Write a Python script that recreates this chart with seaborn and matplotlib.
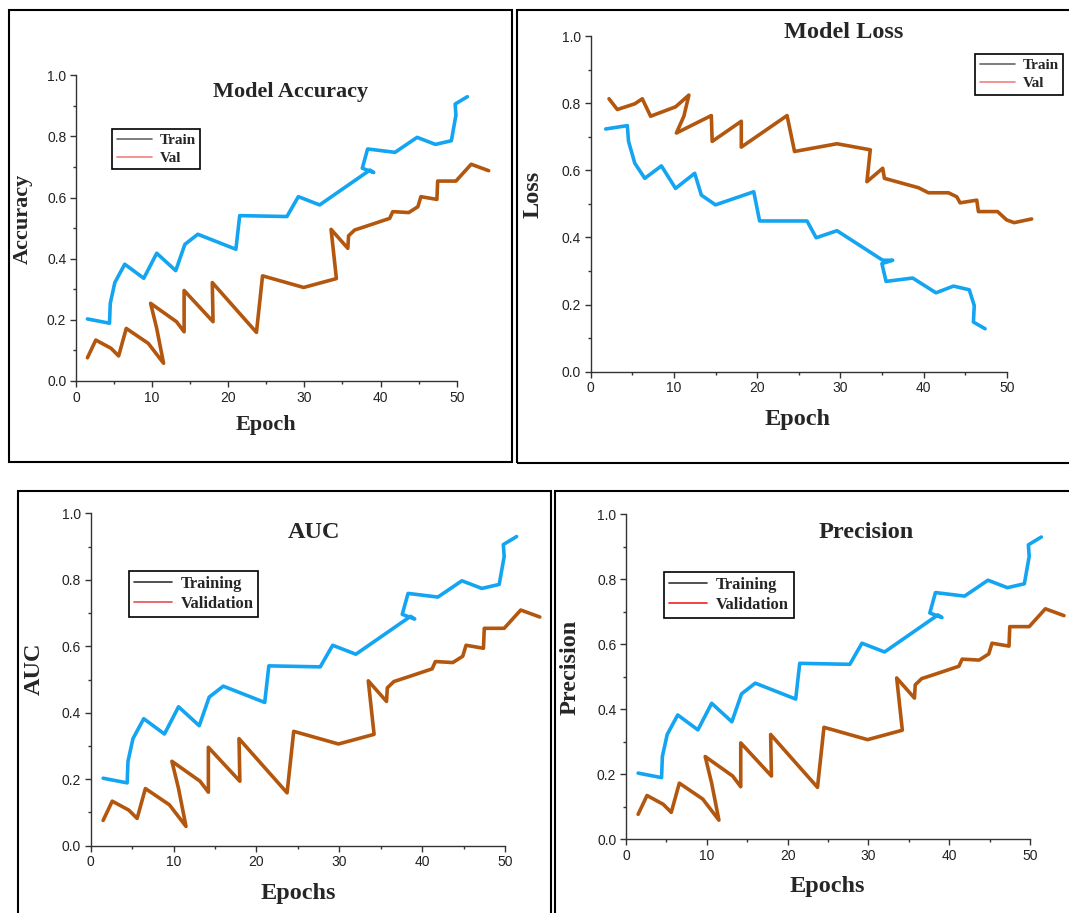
import matplotlib
matplotlib.use("Agg")
import matplotlib.pyplot as plt
from matplotlib.lines import Line2D
from matplotlib.patches import Rectangle
from matplotlib.ticker import MultipleLocator
import seaborn as sns

acc_train_epoch = [1.5, 4.4, 4.5, 5.1, 6.4, 8.9, 10.6, 13.1, 14.3, 16.0, 21.0, 21.5,
                   27.7, 29.2, 32.0, 38.6, 39.1, 37.6, 38.3, 41.9, 44.8, 47.2, 49.3,
                   49.9, 49.8, 51.4]
acc_train = [0.203, 0.189, 0.254, 0.322, 0.382, 0.336, 0.418, 0.361, 0.447, 0.480,
             0.431, 0.541, 0.538, 0.603, 0.576, 0.690, 0.682, 0.696, 0.759, 0.748,
             0.797, 0.774, 0.786, 0.870, 0.906, 0.930]

acc_val_epoch = [1.5, 2.6, 4.6, 5.6, 6.6, 9.5, 11.5, 10.6, 9.8, 13.2, 14.2, 14.2,
                 18.0, 17.9, 21.1, 23.7, 24.5, 29.9, 34.2, 33.5, 35.7, 35.8, 36.6,
                 38.2, 41.2, 41.6, 43.7, 44.9, 45.3, 47.4, 47.5, 49.9, 51.9, 54.2]
acc_val = [0.076, 0.134, 0.107, 0.082, 0.172, 0.123, 0.058, 0.172, 0.254, 0.194,
           0.161, 0.296, 0.194, 0.322, 0.232, 0.159, 0.344, 0.306, 0.335, 0.496,
           0.434, 0.475, 0.494, 0.507, 0.532, 0.554, 0.551, 0.570, 0.603, 0.594,
           0.654, 0.654, 0.709, 0.688]

loss_train_epoch = [1.8, 4.4, 4.55, 5.3, 6.5, 8.5, 10.2, 12.5, 13.3, 15.0, 19.6, 20.3,
                    26.0, 27.1, 29.6, 35.1, 36.3, 35.0, 35.5, 38.7, 41.5, 43.6, 45.5,
                    46.1, 46.0, 47.4]
loss_train = [0.723, 0.733, 0.686, 0.621, 0.576, 0.613, 0.546, 0.591, 0.526, 0.497,
              0.536, 0.449, 0.449, 0.399, 0.420, 0.332, 0.332, 0.322, 0.269, 0.279,
              0.235, 0.255, 0.244, 0.197, 0.148, 0.128]

loss_val_epoch = [2.2, 3.2, 5.3, 6.2, 7.2, 10.2, 11.8, 11.2, 10.3, 14.5, 14.6, 18.1,
                  18.1, 23.6, 24.5, 29.6, 33.6, 33.2, 35.1, 35.3, 39.4, 40.6, 43.0,
                  44.0, 44.4, 46.4, 46.6, 48.9, 50.0, 50.9, 53.0]
loss_val = [0.813, 0.781, 0.798, 0.813, 0.761, 0.789, 0.824, 0.761, 0.711, 0.763,
            0.686, 0.746, 0.669, 0.763, 0.656, 0.679, 0.661, 0.566, 0.606, 0.576,
            0.548, 0.533, 0.533, 0.521, 0.503, 0.511, 0.477, 0.477, 0.452, 0.444,
            0.455]

# AUC and Precision panels show the very same traces as Accuracy
auc_train, auc_val = acc_train, acc_val
prec_train, prec_val = acc_train, acc_val

BLUE = "#14A5F2"
BROWN = "#B3570F"

sns.set_style("ticks")
plt.rcParams["font.family"] = ["Liberation Sans", "DejaVu Sans"]
SERIF = "Liberation Serif"

W, H = 1069, 913
fig = plt.figure(figsize=(W / 100, H / 100), dpi=100)


def box(l, t, r, b):
    # pixel box -> figure fraction
    return [l / W, 1 - b / H, (r - l) / W, (b - t) / H]


# panel frames
for l, t, r, b in [(9, 10, 512, 462), (517, 10, 1080, 463),
                   (18, 491, 551, 930), (555, 491, 1080, 930)]:
    x0, y0, w, h = box(l, t, r, b)
    fig.patches.append(Rectangle((x0, y0), w, h, transform=fig.transFigure,
                                 fill=False, ec="black", lw=1.5))

panels = [
    dict(rect=(76, 75.3, 456.7, 381), title="Model Accuracy", tpos=(291, 92),
         xlab="Epoch", ylab="Accuracy", size=16,
         xl=(0.498, -0.144), yl=(-0.139, 0.53),
         leg=["Train", "Val"], legc=["#666666", "#F08080"], legpos=(0.095, 0.824), legsize=11,
         tx=acc_train_epoch, ty=acc_train, vx=acc_val_epoch, vy=acc_val),
    dict(rect=(590.7, 36, 1006.7, 371.7), title="Model Loss", tpos=(844, 33),
         xlab="Epoch", ylab="Loss", size=17.5,
         xl=(0.498, -0.141), yl=(-0.139, 0.529),
         leg=["Train", "Val"], legc=["#666666", "#F08080"], legpos=(0.924, 0.946), legsize=11,
         tx=loss_train_epoch, ty=loss_train, vx=loss_val_epoch, vy=loss_val),
    dict(rect=(90.7, 513.3, 505, 845.7), title="AUC", tpos=(314, 532),
         xlab="Epochs", ylab="AUC", size=17.5,
         xl=(0.5, -0.145), yl=(-0.137, 0.532),
         leg=["Training", "Validation"], legc=["#333333", "#E05050"], legpos=(0.092, 0.826), legsize=12,
         tx=acc_train_epoch, ty=auc_train, vx=acc_val_epoch, vy=auc_val),
    dict(rect=(626, 514.3, 1030, 839), title="Precision", tpos=(866, 532),
         xlab="Epochs", ylab="Precision", size=17.5,
         xl=(0.499, -0.145), yl=(-0.139, 0.53),
         leg=["Training", "Validation"], legc=["#333333", "#F02020"], legpos=(0.094, 0.822), legsize=12,
         tx=acc_train_epoch, ty=prec_train, vx=acc_val_epoch, vy=prec_val),
]

for p in panels:
    ax = fig.add_axes(box(*p["rect"]))
    sns.lineplot(x=p["tx"], y=p["ty"], sort=False, estimator=None, color=BLUE,
                 lw=2.6, ax=ax, clip_on=False, legend=False)
    sns.lineplot(x=p["vx"], y=p["vy"], sort=False, estimator=None, color=BROWN,
                 lw=2.6, ax=ax, clip_on=False, legend=False)

    ax.set_xlim(0, 50)
    ax.set_ylim(0, 1)
    ax.set_xticks(range(0, 51, 10))
    ax.set_yticks([0.0, 0.2, 0.4, 0.6, 0.8, 1.0])
    ax.set_yticklabels(["0.0", "0.2", "0.4", "0.6", "0.8", "1.0"])
    ax.xaxis.set_minor_locator(MultipleLocator(5))
    ax.yaxis.set_minor_locator(MultipleLocator(0.1))
    ax.tick_params(which="major", length=4, width=1, color="#333333",
                   labelsize=10, labelcolor="#222222", pad=3)
    ax.tick_params(which="minor", length=2, width=1, color="#333333")
    sns.despine(ax=ax)
    for s in ["left", "bottom"]:
        ax.spines[s].set_color("#333333")
        ax.spines[s].set_linewidth(1)
    ax.set_xlabel("")
    ax.set_ylabel("")

    ax.text(p["xl"][0], p["xl"][1], p["xlab"], transform=ax.transAxes, ha="center",
            va="center", family=SERIF, weight="bold", size=p["size"])
    ax.text(p["yl"][0], p["yl"][1], p["ylab"], transform=ax.transAxes, ha="center",
            va="center", rotation=90, family=SERIF, weight="bold", size=p["size"])
    fig.text(p["tpos"][0] / W, 1 - p["tpos"][1] / H, p["title"], ha="center",
             va="center", family=SERIF, weight="bold", size=p["size"])

    handles = [Line2D([], [], color=c, lw=1.2) for c in p["legc"]]
    leg = ax.legend(handles, p["leg"], loc="upper left", bbox_to_anchor=p["legpos"],
                    frameon=True, fancybox=False, edgecolor="black", framealpha=1,
                    prop=dict(family=SERIF, weight="bold", size=p["legsize"]),
                    handlelength=2.3, handletextpad=0.5, borderpad=0.3,
                    labelspacing=0.25, borderaxespad=0)
    leg.get_frame().set_linewidth(1.2)

fig.savefig("out.png", dpi=100)
